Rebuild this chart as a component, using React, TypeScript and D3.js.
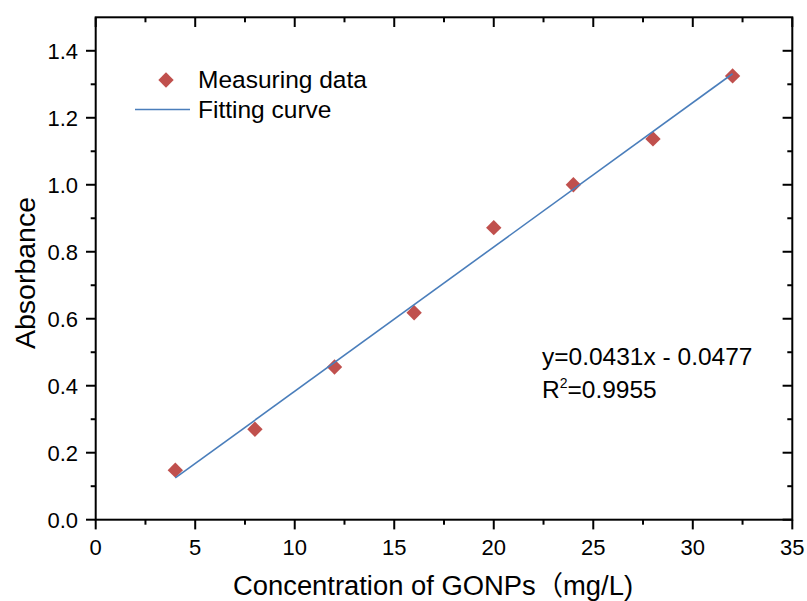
import React from "react";
import * as d3 from "d3";

const concentrations = [4, 8, 12, 16, 20, 24, 28, 32];
const absorbance = [0.148, 0.27, 0.456, 0.618, 0.872, 1.0, 1.137, 1.325];
const fitSlope = 0.0431;
const fitIntercept = -0.0477;
const xMajorTicks = [0, 5, 10, 15, 20, 25, 30, 35];
const xMinorTicks = [2.5, 7.5, 12.5, 17.5, 22.5, 27.5, 32.5];
const yMajorTicks = [0, 0.2, 0.4, 0.6, 0.8, 1.0, 1.2, 1.4];
const yMinorTicks = [0.1, 0.3, 0.5, 0.7, 0.9, 1.1, 1.3];
const legendLabels = ["Measuring data", "Fitting curve"];
const xTitle = "Concentration of GONPs（mg/L)";
const yTitle = "Absorbance";
const eqText = "y=0.0431x - 0.0477";
const r2Value = "=0.9955";

const W = 807, H = 601;
const L = 95.7, R = 792.3, T = 17.3, B = 519.7;
const POINT = "#C0504D";
const LINE = "#4A7EBB";
const FONT = "'Liberation Sans', Arial, 'Noto Sans CJK SC', sans-serif";

export default function App() {
  const x = d3.scaleLinear().domain([0, 35]).range([L, R]);
  const y = d3.scaleLinear().domain([0, 1.5]).range([B, T]);
  const fitX = [d3.min(concentrations)!, d3.max(concentrations)!];
  const line = d3.line<number>().x((d) => x(d)).y((d) => y(fitSlope * d + fitIntercept));
  const diamond = d3.symbol().type(d3.symbolSquare).size(118)();
  const major = 9.7, minor = 5;
  return (
    <svg width={W} height={H} style={{ position: "absolute", left: 0, top: 0, background: "#fff" }} fontFamily={FONT}>
      <rect x={0} y={0} width={W} height={H} fill="#fff" />
      {concentrations.map((c, i) => (
        <path key={i} d={diamond!} transform={`translate(${x(c)},${y(absorbance[i])}) rotate(45)`} fill={POINT} />
      ))}
      <path d={line(fitX)!} fill="none" stroke={LINE} strokeWidth={1.6} />
      <rect x={L} y={T} width={R - L} height={B - T} fill="none" stroke="#000" strokeWidth={2} />
      {xMajorTicks.map((t) => (
        <g key={"xm" + t}>
          <line x1={x(t)} x2={x(t)} y1={B} y2={B + major} stroke="#000" strokeWidth={2} />
          <line x1={x(t)} x2={x(t)} y1={T} y2={T + major} stroke="#000" strokeWidth={2} />
          <text x={x(t)} y={555} fontSize={22} textAnchor="middle">{t}</text>
        </g>
      ))}
      {xMinorTicks.map((t) => (
        <g key={"xn" + t}>
          <line x1={x(t)} x2={x(t)} y1={B} y2={B + minor} stroke="#000" strokeWidth={2} />
          <line x1={x(t)} x2={x(t)} y1={T} y2={T + minor} stroke="#000" strokeWidth={2} />
        </g>
      ))}
      {yMajorTicks.map((t) => (
        <g key={"ym" + t}>
          <line x1={L - major} x2={L} y1={y(t)} y2={y(t)} stroke="#000" strokeWidth={2} />
          <line x1={R - major} x2={R} y1={y(t)} y2={y(t)} stroke="#000" strokeWidth={2} />
          <text x={78} y={y(t) + 8} fontSize={22} textAnchor="end">{d3.format(".1f")(t)}</text>
        </g>
      ))}
      {yMinorTicks.map((t) => (
        <g key={"yn" + t}>
          <line x1={L - minor} x2={L} y1={y(t)} y2={y(t)} stroke="#000" strokeWidth={2} />
          <line x1={R - minor} x2={R} y1={y(t)} y2={y(t)} stroke="#000" strokeWidth={2} />
        </g>
      ))}
      <text x={433} y={595} fontSize={27} textAnchor="middle" textLength={400} lengthAdjust="spacingAndGlyphs">{xTitle}</text>
      <text transform={`translate(35,273) rotate(-90)`} fontSize={28.5} textAnchor="middle">{yTitle}</text>
      <path d={diamond!} transform="translate(166,80) rotate(45)" fill={POINT} />
      <text x={198} y={88} fontSize={24.5}>{legendLabels[0]}</text>
      <line x1={135} x2={190} y1={109.5} y2={109.5} stroke={LINE} strokeWidth={1.6} />
      <text x={198} y={118} fontSize={24.5}>{legendLabels[1]}</text>
      <text x={542} y={365} fontSize={24.5}>{eqText}</text>
      <text x={542} y={398} fontSize={24.5}>
        R<tspan fontSize={14} dy={-10}>2</tspan><tspan dy={10}>{r2Value}</tspan>
      </text>
    </svg>
  );
}
